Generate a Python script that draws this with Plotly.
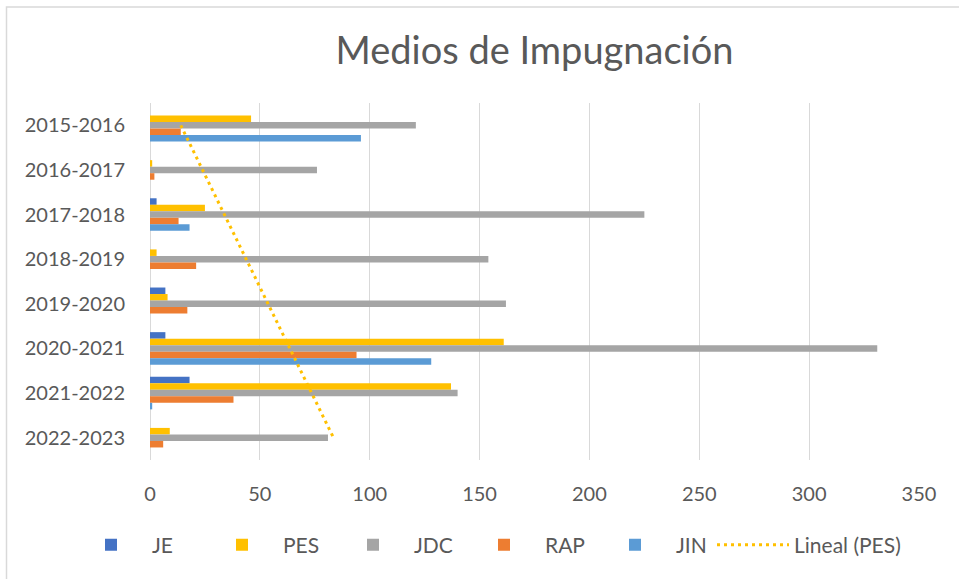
import numpy as np
import plotly.graph_objects as go

categories = ["2015-2016", "2016-2017", "2017-2018", "2018-2019",
              "2019-2020", "2020-2021", "2021-2022", "2022-2023"]
je = [0, 0, 3, 0, 7, 7, 18, 0]
pes = [46, 1, 25, 3, 8, 161, 137, 9]
jdc = [121, 76, 225, 154, 162, 331, 140, 81]
rap = [14, 2, 13, 21, 17, 94, 38, 6]
jin = [96, 0, 18, 0, 0, 128, 1, 0]
x_ticks = [0, 50, 100, 150, 200, 250, 300, 350]

series = [("JE", je, "#4472C4"), ("PES", pes, "#FFC000"), ("JDC", jdc, "#A5A5A5"),
          ("RAP", rap, "#ED7D31"), ("JIN", jin, "#5B9BD5")]

# Linear trendline of PES (as Excel's "Lineal (PES)")
idx = np.arange(1, len(categories) + 1)
slope, intercept = np.polyfit(idx, np.array(pes, dtype=float), 1)
trend = slope * idx + intercept

FONT = "Lato"
GREY = "#595959"

fig = go.Figure()
for name, vals, color in series:
    fig.add_trace(go.Bar(name=name, y=categories, x=vals, orientation="h",
                         marker=dict(color=color, line=dict(width=0)), legend="legend"))
fig.add_trace(go.Scatter(name="Lineal (PES)", y=categories, x=trend, mode="lines",
                         line=dict(color="#FFC000", width=3, dash="3px,4px"),
                         legend="legend2"))

W, H = 959, 579
L, R, T, B = 150, 40, 103, 119
pw, ph = W - L - R, H - T - B

def px_x(p):
    return (p - L) / pw

def px_y(p):
    return (H - B - p) / ph

fig.update_layout(
    width=W, height=H,
    margin=dict(l=L, r=R, t=T, b=B, autoexpand=False),
    paper_bgcolor="white", plot_bgcolor="white",
    barmode="group", bargap=0.27, bargroupgap=0,
    font=dict(family=FONT, color=GREY, size=20),
    title=dict(text="Medios de Impugnación", x=0.5, xref="paper", xanchor="center",
               yref="container", y=1 - 51 / H, yanchor="middle",
               font=dict(family=FONT, size=38, color=GREY)),
    xaxis=dict(range=[0, 350], tickvals=x_ticks, showgrid=True, gridcolor="#D9D9D9",
               gridwidth=1, zeroline=True, zerolinecolor="#D9D9D9", zerolinewidth=1,
               showline=False, ticks="outside", ticklen=16, tickcolor="rgba(0,0,0,0)",
               tickfont=dict(family=FONT, size=20, color=GREY), fixedrange=True,
               automargin=False),
    yaxis=dict(type="category", autorange="reversed", showgrid=False, showline=False,
               ticks="outside", ticklen=20, tickcolor="rgba(0,0,0,0)",
               tickfont=dict(family=FONT, size=20, color=GREY), fixedrange=True,
               automargin=False),
    legend=dict(orientation="h", x=px_x(70), xanchor="left", y=px_y(545), yanchor="middle",
                font=dict(family=FONT, size=21, color=GREY), traceorder="normal",
                entrywidth=44, entrywidthmode="pixels", itemwidth=72,
                bgcolor="rgba(0,0,0,0)"),
    legend2=dict(orientation="h", x=px_x(712), xanchor="left", y=px_y(545), yanchor="middle",
                 font=dict(family=FONT, size=21, color=GREY), itemwidth=72,
                 bgcolor="rgba(0,0,0,0)"),
    shapes=[dict(type="rect", xref="paper", yref="paper",
                 x0=px_x(6.5), x1=px_x(1000), y0=px_y(7), y1=px_y(620),
                 line=dict(color="#D9D9D9", width=1.5), fillcolor="rgba(0,0,0,0)", layer="below")],
)

fig.write_html("out.html", config={"displayModeBar": False},
               post_script="document.body.style.margin='0px';")
